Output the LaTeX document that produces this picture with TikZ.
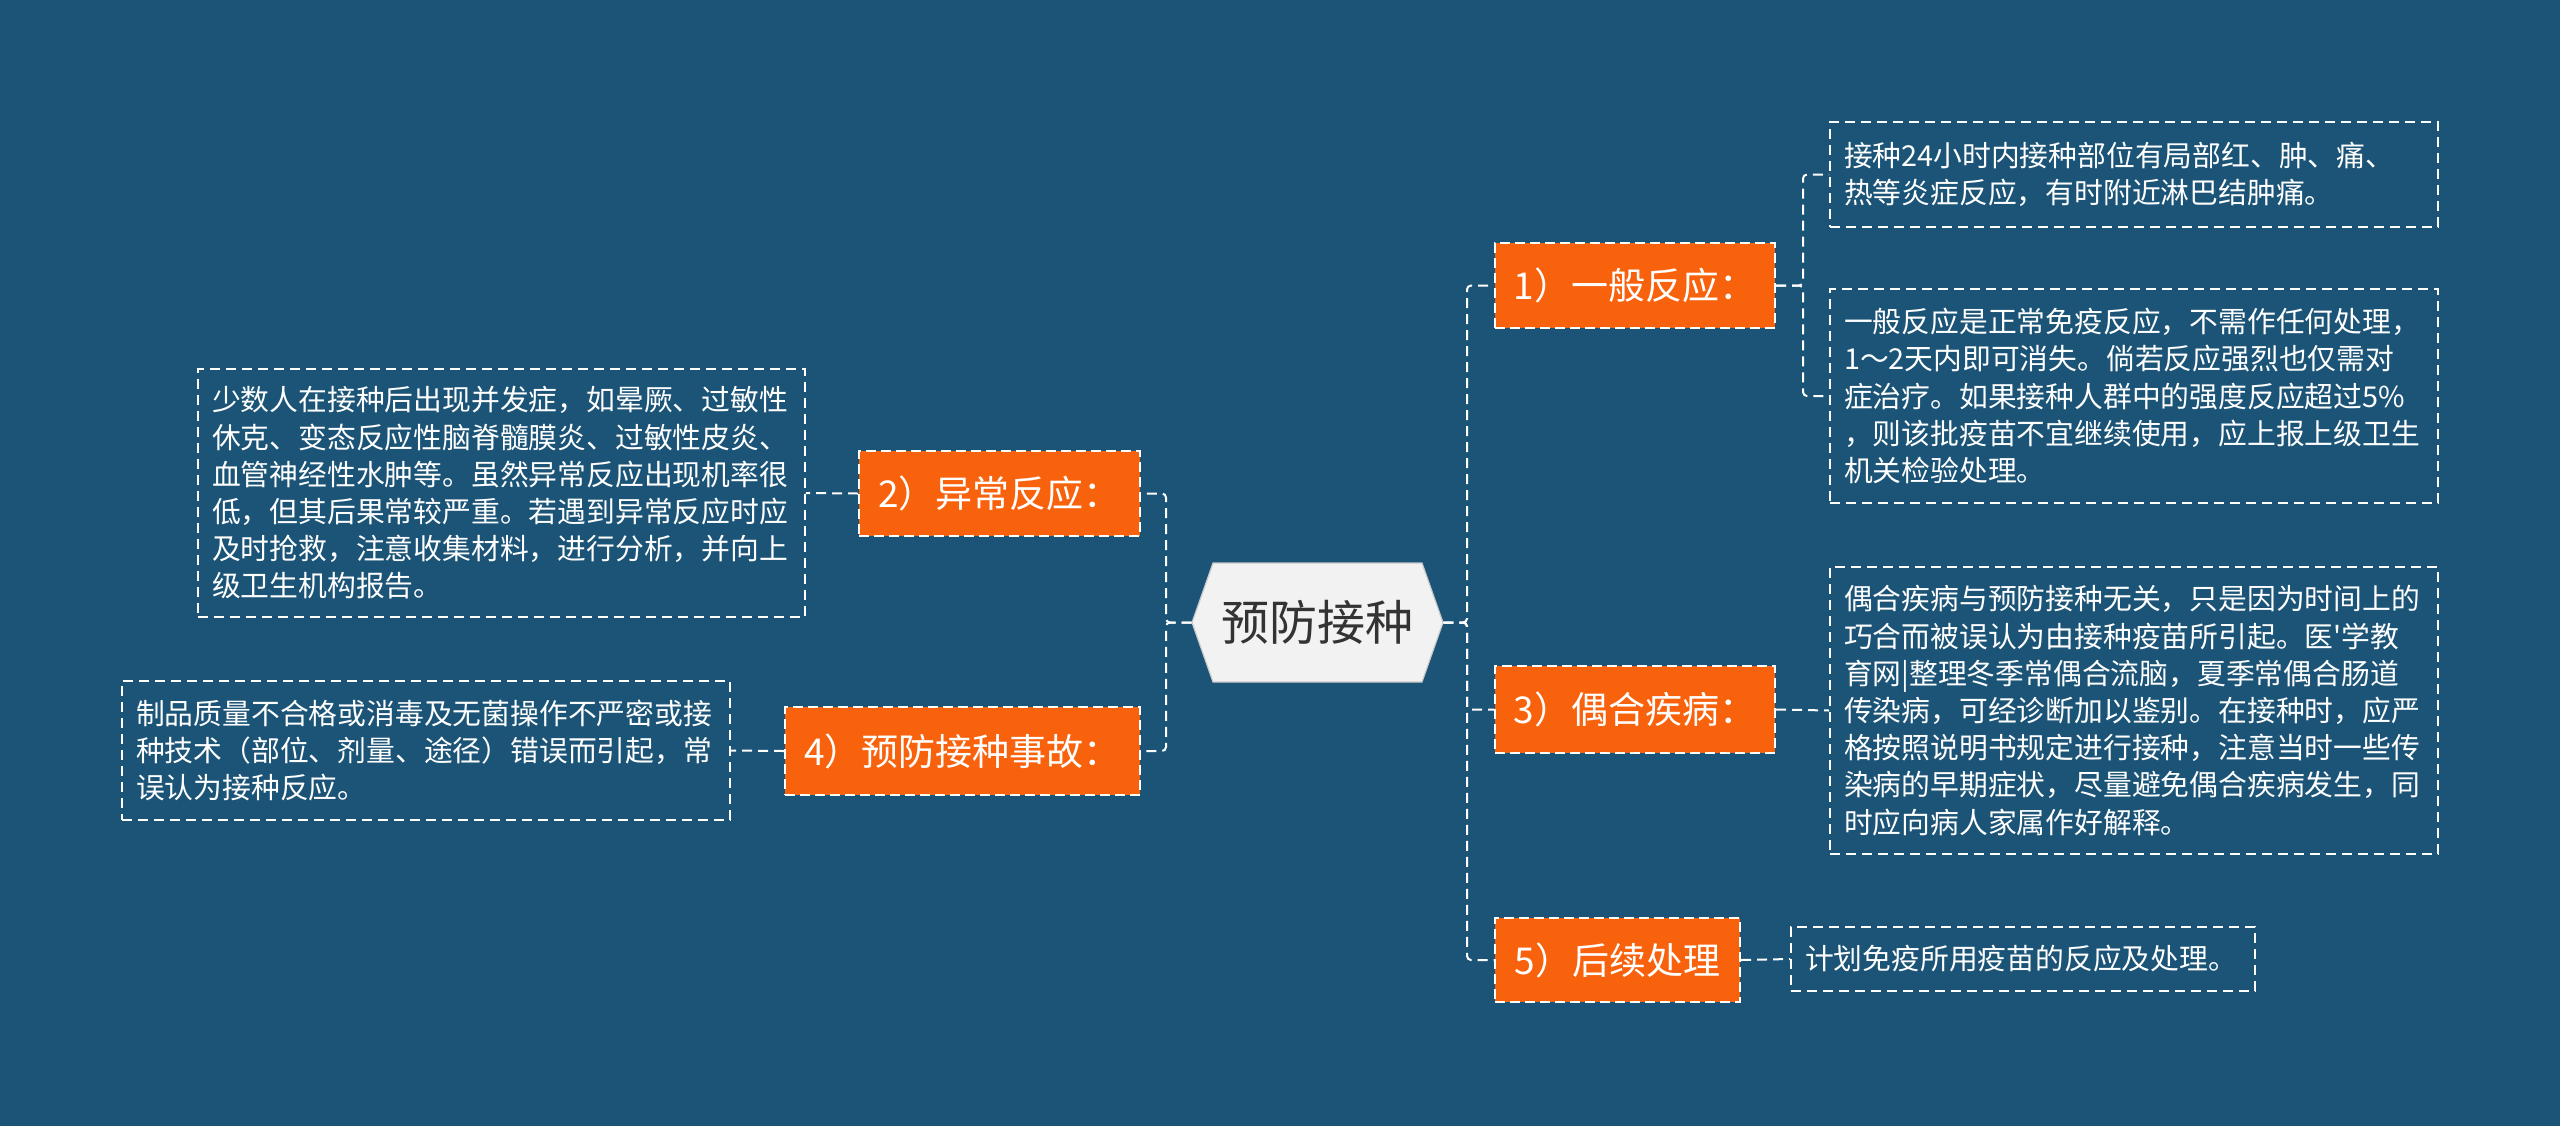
\documentclass[tikz,border=0pt]{standalone}
\usepackage{fontspec}
\setmainfont{Noto Sans CJK SC}
\newfontfamily\rawcjk{Noto Sans CJK SC}
\definecolor{bg}{HTML}{1B5477}
\definecolor{org}{HTML}{F9620C}
\definecolor{hexfill}{HTML}{F2F2F2}
\definecolor{hexdraw}{HTML}{C8C8C8}
\definecolor{txtdark}{HTML}{333333}
\begin{document}
\begin{tikzpicture}[x=0.5pt,y=-0.5pt,
  conn/.style={draw=white, line width=1pt, dash pattern=on 5pt off 3pt, rounded corners=2pt},
  branch/.style={fill=org, draw=white, line width=1pt, dash pattern=on 5pt off 2.5pt, text=white,
    font=\fontsize{18.5}{22}\selectfont, inner sep=0pt},
  leaf/.style={draw=white, line width=0.8pt, dash pattern=on 5pt off 3pt, text=white,
    font=\fontsize{14.4}{18.6}\selectfont, align=left, inner xsep=7pt, inner ysep=0pt},
]
\fill[bg] (0,0) rectangle (2560,1126);
\useasboundingbox (0,0) rectangle (2560,1126);

% root hexagon
\filldraw[fill=hexfill, draw=hexdraw, line width=0.6pt]
  (1192,622.5) -- (1213,563) -- (1422,563) -- (1443,622.5) -- (1422,682) -- (1213,682) -- cycle;
\node[font=\fontsize{24}{28}\selectfont, text=txtdark, minimum width=125.5pt, minimum height=59.5pt, inner sep=0pt]
  (root) at (1317.5,622.5) {预防接种};

% branches
\node[branch, minimum width=140pt, minimum height=42.5pt] (n1) at (1635,285.5) {1）一般反应：};
\node[branch, minimum width=140pt, minimum height=43.5pt] (n3) at (1635,709.5) {3）偶合疾病：};
\node[branch, minimum width=122.5pt, minimum height=42pt] (n5) at (1617.5,960) {5）后续处理};
\node[branch, minimum width=140.5pt, minimum height=42.5pt] (n2) at (999.5,493.5) {2）异常反应：};
\node[branch, minimum width=177.5pt, minimum height=44pt] (n4) at (962.5,751) {4）预防接种事故：};

% leaves
\node[leaf, text width=290pt, minimum height=52.5pt] (l1a) at (2134,174.5)
  {接种24小时内接种部位有局部红、肿、痛、\\热等炎症反应，有时附近淋巴结肿痛。};
\node[leaf, text width=290pt, minimum height=107pt] (l1b) at (2134,396)
  {一般反应是正常免疫反应，不需作任何处理，\\1～2天内即可消失。倘若反应强烈也仅需对\\症治疗。如果接种人群中的强度反应超过5\%\\，则该批疫苗不宜继续使用，应上报上级卫生\\机关检验处理。};
\node[leaf, text width=290pt, minimum height=143.5pt] (l3) at (2134,710.5)
  {偶合疾病与预防接种无关，只是因为时间上的\\巧合而被误认为由接种疫苗所引起。医{\rawcjk '}学教\\育网|整理冬季常偶合流脑，夏季常偶合肠道\\传染病，可经诊断加以鉴别。在接种时，应严\\格按照说明书规定进行接种，注意当时一些传\\染病的早期症状，尽量避免偶合疾病发生，同\\时应向病人家属作好解释。};
\node[leaf, text width=218pt, minimum height=32pt] (l5) at (2023,959)
  {计划免疫所用疫苗的反应及处理。};
\node[leaf, text width=289.5pt, minimum height=124pt] (l2) at (501.5,493)
  {少数人在接种后出现并发症，如晕厥、过敏性\\休克、变态反应性脑脊髓膜炎、过敏性皮炎、\\血管神经性水肿等。虽然异常反应出现机率很\\低，但其后果常较严重。若遇到异常反应时应\\及时抢救，注意收集材料，进行分析，并向上\\级卫生机构报告。};
\node[leaf, text width=290pt, minimum height=69.5pt] (l4) at (426,750.5)
  {制品质量不合格或消毒及无菌操作不严密或接\\种技术（部位、剂量、途径）错误而引起，常\\误认为接种反应。};

% connectors
\coordinate (rt) at (1467,622.5);
\coordinate (lt) at (1166,622.5);
\coordinate (j1) at (1803,285.5);
\draw[conn] (root.east) -- (rt) |- (n1.west);
\draw[conn] (root.east) -- (rt) |- (n3.west);
\draw[conn] (root.east) -- (rt) |- (n5.west);
\draw[conn] (root.west) -- (lt) |- (n2.east);
\draw[conn] (root.west) -- (lt) |- (n4.east);
\draw[conn] (n1.east) -- (j1) |- (l1a.west);
\draw[conn] (n1.east) -- (j1) |- (l1b.west);
\draw[conn] (n3.east) -- (l3.west);
\draw[conn] (n5.east) -- (l5.west);
\draw[conn] (n2.west) -- (l2.east);
\draw[conn] (n4.west) -- (l4.east);
\end{tikzpicture}
\end{document}
